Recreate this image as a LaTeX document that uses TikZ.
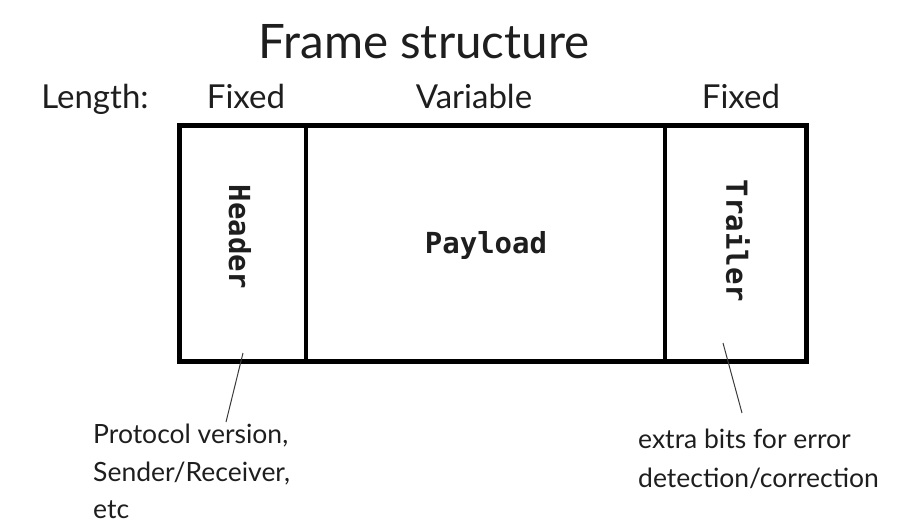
\documentclass[tikz,border=0pt]{standalone}
\usepackage{fontspec}
\setmainfont{Lato}
\newfontfamily\monof{DejaVu Sans Mono}
\definecolor{ink}{HTML}{1E1E1E}
\definecolor{leader}{HTML}{3A3A3A}
\begin{document}
\begin{tikzpicture}[x=1pt,y=1pt,
  hand/.style={text=ink,inner sep=0pt,anchor=base,font=\fontsize{33}{33}\selectfont},
  note/.style={text=ink,inner sep=0pt,anchor=base west,font=\fontsize{26.5}{26.5}\selectfont},
  cell/.style={inner sep=0pt,minimum height=236pt},
  celltext/.style={text=ink,inner sep=0pt,font=\monof\bfseries\fontsize{29}{29}\selectfont},
  frameline/.style={line width=5pt,draw=black},
  divline/.style={line width=3.5pt,draw=black},
  leaderline/.style={draw=leader,line width=1pt}]
\useasboundingbox (0,0) rectangle (917,-531);
% title and length labels
\node[hand,font=\fontsize{47.5}{47.5}\selectfont] (title) at (424,-58) {Frame structure};
\node[hand] (len) at (95,-108) {Length:};
\node[hand] (fix1) at (246,-108) {Fixed};
\node[hand] (var) at (474,-108) {Variable};
\node[hand] (fix2) at (741,-108) {Fixed};
% cells
\node[cell,minimum width=126pt] (header) at (243,-243.5) {};
\node[cell,minimum width=359pt] (payload) at (485.5,-243.5) {};
\node[cell,minimum width=141pt] (trailer) at (735.5,-243.5) {};
\node[celltext,rotate=-90] (htxt) at (240,-237) {Header};
\node[celltext,anchor=base] (ptxt) at (486,-253) {Payload};
\node[celltext,rotate=-90] (ttxt) at (738,-241) {Trailer};
% frame
\draw[frameline] (header.north west) rectangle (trailer.south east);
\draw[divline] (header.north east) -- (header.south east);
\draw[divline] (trailer.north west) -- (trailer.south west);
% annotations
\node[note] (hnote1) at (93,-443) {Protocol version,};
\node[note] (hnote2) at (93,-481) {Sender/Receiver,};
\node[note] (hnote3) at (93,-518) {etc};
\node[note] (tnote1) at (638,-448) {extra bits for error};
\node[note] (tnote2) at (638,-487) {detection/correction};
\coordinate (hl1) at (243,-353);
\coordinate (hl2) at (226,-422);
\coordinate (tl1) at (723,-343);
\coordinate (tl2) at (742,-413);
\draw[leaderline] (hl1) -- (hl2);
\draw[leaderline] (tl1) -- (tl2);
\end{tikzpicture}
\end{document}
